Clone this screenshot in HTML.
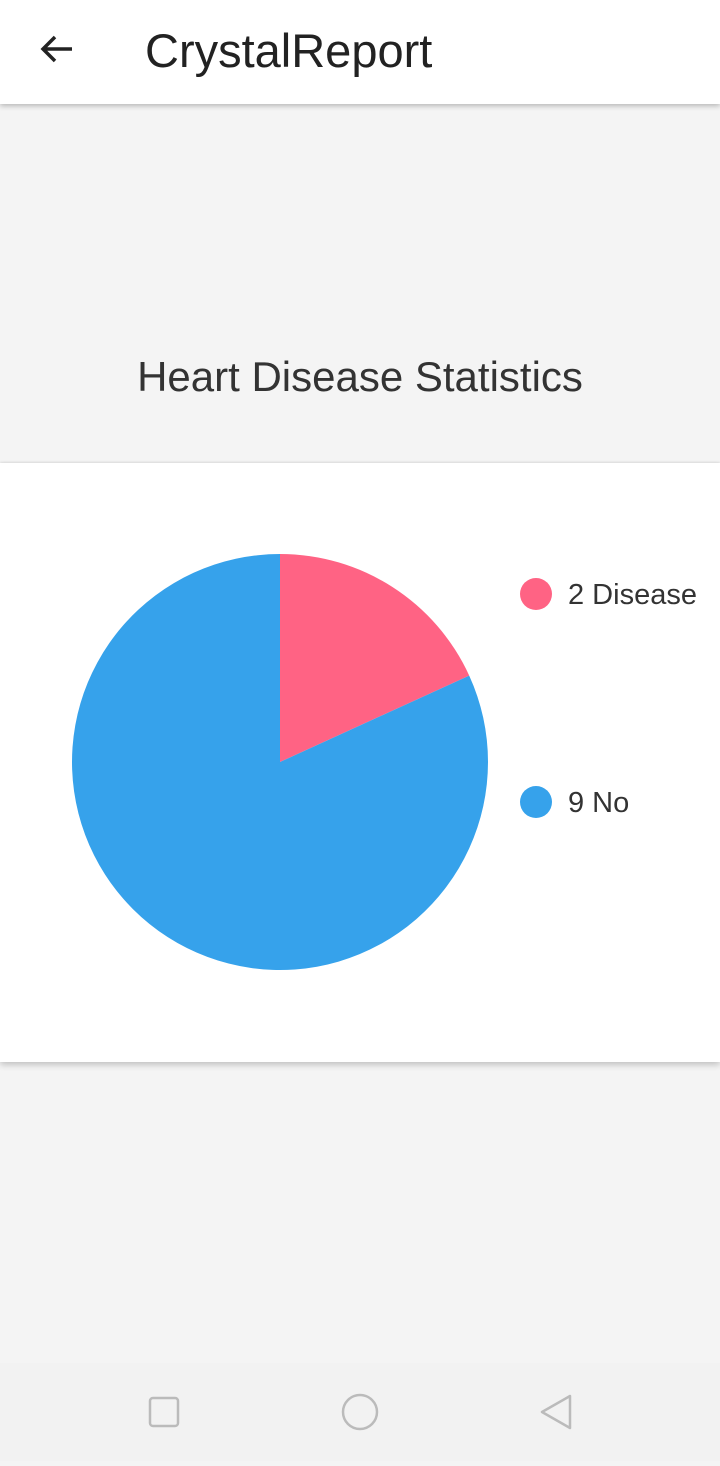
<!DOCTYPE html>
<html><head><meta charset="utf-8"><style>
body{margin:0;width:720px;height:1461px;background:#f4f4f4;font-family:"Liberation Sans",sans-serif;position:relative;overflow:hidden}
.hdr{position:absolute;left:0;top:0;width:720px;height:104px;background:#fff;box-shadow:0 2px 5px rgba(0,0,0,.25)}
.title{position:absolute;left:145px;top:23px;font-size:47px;color:#222}
.ct{position:absolute;left:0;width:720px;top:353px;text-align:center;font-size:42px;color:#333}
.card{position:absolute;left:0;top:463px;width:720px;height:599px;background:#fff;box-shadow:0 3px 6px rgba(0,0,0,.2),0 -1px 2px rgba(0,0,0,.08)}
.nav{position:absolute;left:0;top:1363px;width:720px;height:98px;background:#f2f2f2}
</style></head><body>
<div class="hdr">
<svg style="position:absolute;left:36px;top:30px" width="40" height="40"><path d="M36 19H8M19 7L7 19l12 12" stroke="#222" stroke-width="3.5" fill="none"/></svg>
<div class="title">CrystalReport</div>
</div>
<div class="ct">Heart Disease Statistics</div>
<div class="card">
<svg id="pie" width="720" height="599"></svg>
</div>
<div class="nav">
<svg width="720" height="98">
<rect x="150" y="35" width="28" height="28" rx="3" fill="none" stroke="#bbb" stroke-width="2.5"/>
<circle cx="360" cy="49" r="17" fill="none" stroke="#bbb" stroke-width="2.5"/>
<path d="M570 33L542 49L570 65Z" fill="none" stroke="#bbb" stroke-width="2.5" stroke-linejoin="round"/>
</svg></div>
<script>
const labels=["Disease","No"];
const values=[2,9];
const colors=["#ff6384","#36a2eb"];
const svg=document.getElementById('pie');
const NS="http://www.w3.org/2000/svg";
const cx=280,cy=299,r=208;
const total=values.reduce((a,b)=>a+b,0);
let a0=0;
values.forEach((v,i)=>{
  const a1=a0+v/total*2*Math.PI;
  const x0=cx+r*Math.sin(a0),y0=cy-r*Math.cos(a0),x1=cx+r*Math.sin(a1),y1=cy-r*Math.cos(a1);
  const p=document.createElementNS(NS,'path');
  p.setAttribute('d',`M${cx} ${cy}L${x0} ${y0}A${r} ${r} 0 ${a1-a0>Math.PI?1:0} 1 ${x1} ${y1}Z`);
  p.setAttribute('fill',colors[i]);
  
  
  svg.appendChild(p);
  a0=a1;
  const c=document.createElementNS(NS,'circle');
  c.setAttribute('cx',536);c.setAttribute('cy',131+i*208);c.setAttribute('r',16);c.setAttribute('fill',colors[i]);
  
  
  svg.appendChild(c);
  const t=document.createElementNS(NS,'text');
  t.setAttribute('x',568);t.setAttribute('y',141+i*208);t.setAttribute('font-size','29');t.setAttribute('fill','#333');
  t.textContent=v+' '+labels[i];
  
  
  svg.appendChild(t);
});
</script>
</body></html>
